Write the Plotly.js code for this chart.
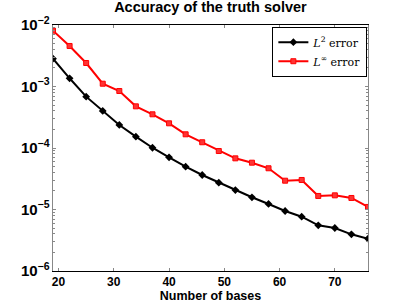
<!DOCTYPE html>
<html><head><meta charset="utf-8">
<script src="https://cdn.plot.ly/plotly-3.0.1.min.js"></script>
<style>html,body{margin:0;padding:0;background:#fff}#c{width:407px;height:305px}</style>
</head><body><div id="c"></div>
<script>
const bases = [19,22,25,28,31,34,37,40,43,46,49,52,55,58,61,64,67,70,73,76];
const l2Error = [2.83e-3,1.36e-3,6.84e-4,4.0e-4,2.37e-4,1.53e-4,1.01e-4,7.06e-5,4.97e-5,3.64e-5,2.73e-5,2.07e-5,1.58e-5,1.23e-5,9.46e-6,7.64e-6,5.53e-6,5.0e-6,3.95e-6,3.35e-6];
const linfError = [8.1e-3,4.56e-3,2.41e-3,1.11e-3,8.45e-4,4.76e-4,3.53e-4,2.52e-4,1.67e-4,1.24e-4,8.93e-5,6.79e-5,5.77e-5,4.68e-5,2.94e-5,3.02e-5,1.66e-5,1.70e-5,1.54e-5,1.10e-5];
const seriesNames = ['<i>L</i><sup>2</sup> error','<i>L</i><sup>∞</sup> error'];
const xTicks = [20,30,40,50,60,70];
const titleText = 'Accuracy of the truth solver';
const xTitle = 'Number of bases';

const traces = [
  {x: bases, y: l2Error, name: seriesNames[0], mode: 'lines+markers',
   line: {color: '#000', width: 2}, marker: {symbol: 'diamond', size: 6, color: '#000'}},
  {x: bases, y: linfError, name: seriesNames[1], mode: 'lines+markers',
   line: {color: '#ff0000', width: 2}, marker: {symbol: 'square', size: 5, color: '#ff3333', line:{color:'#ff0000', width:1}}}
];
const layout = {
  width: 407, height: 305,
  margin: {l: 53, r: 39, t: 25, b: 34},
  paper_bgcolor: '#fff', plot_bgcolor: '#fff',
  font: {family: 'Liberation Sans, Arial, sans-serif', color: '#000'},
  title: {text: titleText, font: {size: 14.5, weight: 'bold'}, x: 0.517, xanchor: 'center', y: 0.995, yanchor: 'top'},
  showlegend: true,
  legend: {x: 0.998, xanchor: 'right', y: 0.993, yanchor: 'top', bgcolor: '#fff', bordercolor: '#000', borderwidth: 1,
           font: {family: 'DejaVu Serif, Liberation Serif, serif', size: 11}, tracegroupgap: 0, itemwidth: 30},
  xaxis: {range: [19, 76], tickvals: xTicks, ticks: 'inside', ticklen: 3, tickcolor: '#888', mirror: 'ticks',
          showline: true, linecolor: '#000', linewidth: 1, showgrid: false, zeroline: false,
          tickfont: {size: 12, weight: 'bold'}, title: {text: xTitle, font: {size: 12.5, weight: 'bold'}, standoff: 1}},
  yaxis: {type: 'log', range: [-6, -2], dtick: 1, exponentformat: 'power', ticks: 'inside', ticklen: 3, tickcolor: '#888',
          mirror: 'ticks', showline: true, linecolor: '#888', linewidth: 1, showgrid: false, zeroline: false,
          tickfont: {size: 12, weight: 'bold'},
          minor: {ticks: 'inside', ticklen: 2, tickcolor: '#888', dtick: 'D1', showgrid: false}}
};
Plotly.newPlot('c', traces, layout, {displayModeBar: false, staticPlot: true});
</script></body></html>
